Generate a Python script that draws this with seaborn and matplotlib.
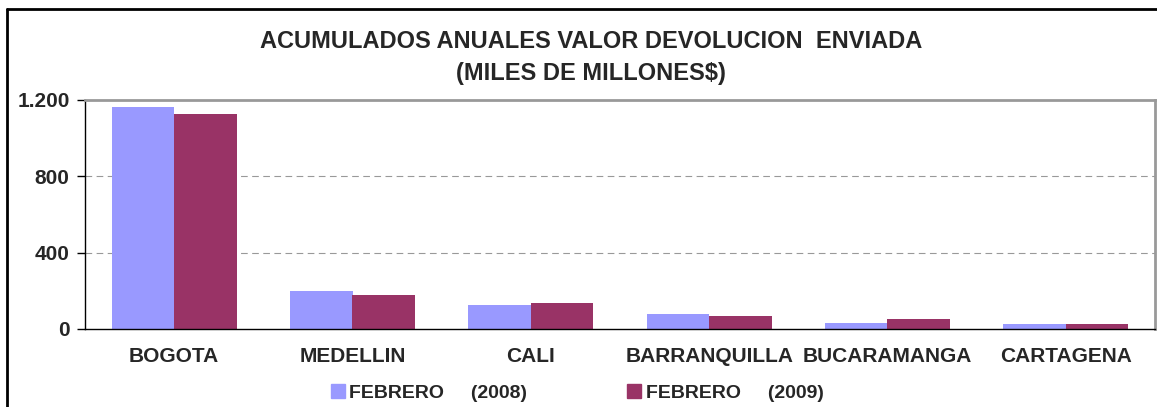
import matplotlib
matplotlib.use("Agg")
import matplotlib.pyplot as plt
import seaborn as sns
import pandas as pd
from matplotlib.lines import Line2D
from matplotlib.ticker import FuncFormatter

# data (miles de millones $)
ciudades = ["BOGOTA", "MEDELLIN", "CALI", "BARRANQUILLA", "BUCARAMANGA", "CARTAGENA"]
feb_2008 = [1163, 199, 126, 79, 31, 26]
feb_2009 = [1127, 178, 136, 68, 52, 26]
series = ["FEBRERO     (2008)", "FEBRERO     (2009)"]
colores = ["#9999FF", "#993366"]

df = pd.DataFrame({
    "ciudad": ciudades * 2,
    "valor": feb_2008 + feb_2009,
    "serie": [series[0]] * len(ciudades) + [series[1]] * len(ciudades),
})

sns.set_style("white")
plt.rcParams["font.family"] = ["Liberation Sans", "DejaVu Sans"]

fig = plt.figure(figsize=(11.57, 4.07), dpi=100)
ax = fig.add_axes([85 / 1157, 1 - 329 / 407, 1070 / 1157, 229 / 407])

sns.barplot(data=df, x="ciudad", y="valor", hue="serie", palette=colores,
            width=0.7, saturation=1, linewidth=0, ax=ax, legend=False)

ax.set_ylim(0, 1200)
ax.set_xlim(-0.5, 5.5)
ax.set_yticks([0, 400, 800, 1200])
ax.yaxis.set_major_formatter(FuncFormatter(lambda v, p: f"{int(v):,}".replace(",", ".")))
for y in [400, 800]:
    ax.axhline(y, color="#999999", lw=0.8, ls=(0, (6, 4)), zorder=0)
ax.set_xlabel("")
ax.set_ylabel("")

for s in ["top", "right"]:
    ax.spines[s].set_color("#999999")
    ax.spines[s].set_linewidth(2)
for s in ["left", "bottom"]:
    ax.spines[s].set_color("black")
    ax.spines[s].set_linewidth(1)

ax.set_xticks([i + 0.5 for i in range(-1, 6)], minor=True)
ax.tick_params(axis="x", which="major", length=0, pad=13, labelsize=15)
ax.tick_params(axis="x", which="minor", length=6, width=1, color="black", direction="out")
ax.tick_params(axis="y", length=6, width=1, color="black", direction="out", labelsize=15, pad=5)
ax.tick_params(axis="both", bottom=True, left=True)
for lab in ax.get_xticklabels() + ax.get_yticklabels():
    lab.set_fontweight("bold")

fig.text(0.511, 0.897, "ACUMULADOS ANUALES VALOR DEVOLUCION  ENVIADA",
         ha="center", va="center", fontsize=17, fontweight="bold")
fig.text(0.511, 0.82, "(MILES DE MILLONES$)",
         ha="center", va="center", fontsize=17, fontweight="bold")

handles = [Line2D([], [], marker="s", ls="", markersize=10, color=c) for c in colores]
fig.legend(handles, series, loc="center", bbox_to_anchor=(0.497, 0.034), ncol=2,
           frameon=False, prop={"weight": "bold", "size": 14},
           handletextpad=0.0, handlelength=1.2, columnspacing=4.9)

# chart outer border
fig.add_artist(Line2D([7 / 1157, 7 / 1157], [0, 1 - 9 / 407], color="black", lw=2,
                      transform=fig.transFigure))
fig.add_artist(Line2D([7 / 1157, 1], [1 - 9 / 407, 1 - 9 / 407], color="black", lw=2,
                      transform=fig.transFigure))

fig.savefig("out.png", dpi=100)
